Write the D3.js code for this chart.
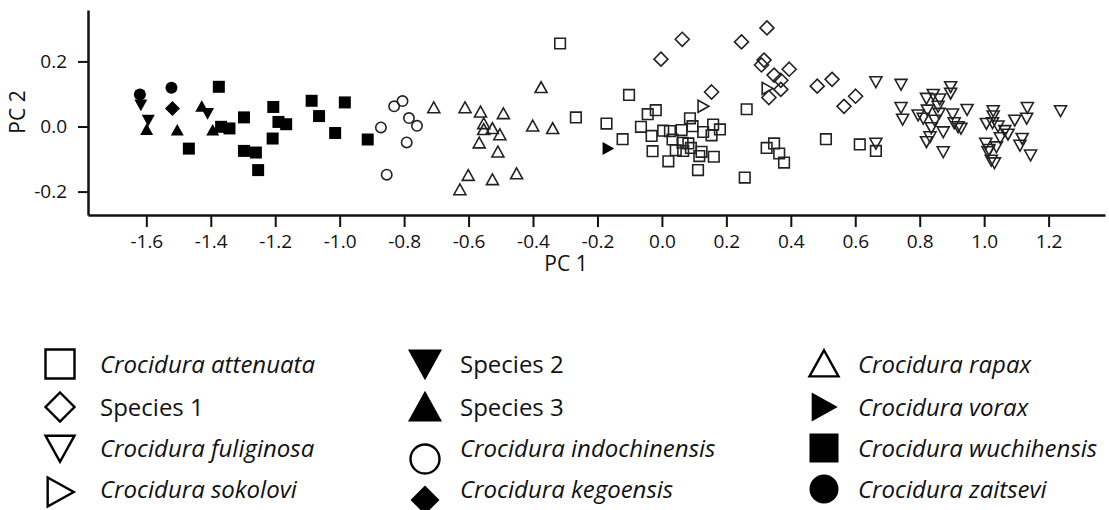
<!DOCTYPE html>
<html>
<head>
<meta charset="utf-8">
<script src="https://cdn.jsdelivr.net/npm/d3@7"></script>
<style>
  body { margin: 0; background: #fff; }
  svg text { font-family: "Open Sans", sans-serif; fill: #111; }
</style>
</head>
<body>
<svg id="main" width="1109" height="510"></svg>
<script>
// legend order (3 columns of 4)
const speciesNames = ["Crocidura attenuata", "Species 1", "Crocidura fuliginosa", "Crocidura sokolovi",
  "Species 2", "Species 3", "Crocidura indochinensis", "Crocidura kegoensis",
  "Crocidura rapax", "Crocidura vorax", "Crocidura wuchihensis", "Crocidura zaitsevi"];

const xTicks = [-1.6, -1.4, -1.2, -1.0, -0.8, -0.6, -0.4, -0.2, 0.0, 0.2, 0.4, 0.6, 0.8, 1.0, 1.2];
const yTicks = [-0.2, 0.0, 0.2];

// PC1 / PC2 scores
const attenuata = [[-0.316,0.255],[-0.267,0.028],[-0.102,0.097],[-0.172,0.009],[-0.122,-0.039],[-0.044,0.038],
  [-0.019,0.050],[-0.065,-0.001],[-0.032,-0.029],[-0.029,-0.076],[0.020,-0.107],[0.025,-0.014],[0.033,-0.040],
  [0.043,-0.073],[0.061,-0.011],[0.064,-0.050],[0.066,-0.075],[0.087,0.025],[0.095,0.001],[0.082,-0.052],
  [0.090,-0.066],[0.116,-0.091],[0.123,-0.078],[0.112,-0.134],[0.128,-0.017],[0.154,-0.027],[0.159,0.006],
  [0.180,-0.009],[0.161,-0.093],[0.263,0.053],[0.257,-0.157],[0.325,-0.066],[0.348,-0.052],[0.364,-0.083],
  [0.379,-0.111],[0.509,-0.039],[0.614,-0.055],[0.664,-0.075],[0.004,-0.013]];
const species1 = [[-0.003,0.207],[0.063,0.268],[0.154,0.106],[0.247,0.260],[0.326,0.303],[0.317,0.204],
  [0.309,0.189],[0.348,0.158],[0.395,0.176],[0.369,0.142],[0.369,0.114],[0.332,0.089],[0.482,0.124],
  [0.528,0.145],[0.601,0.093],[0.565,0.062]];
const fuliginosa = [[0.664,0.137],[0.742,0.129],[0.742,0.058],[0.747,0.022],[0.664,-0.052],[0.821,0.086],
  [0.842,0.098],[0.862,0.084],[0.896,0.122],[0.896,0.102],[0.795,0.035],[0.811,0.025],[0.824,0.050],
  [0.857,0.062],[0.860,0.040],[0.847,0.019],[0.836,-0.004],[0.832,-0.032],[0.821,-0.047],[0.873,-0.017],
  [0.873,-0.078],[0.902,0.038],[0.907,0.011],[0.919,-0.001],[0.928,-0.006],[0.947,0.052],[1.028,0.048],
  [1.028,0.032],[1.007,0.009],[1.026,0.011],[1.043,0.001],[1.064,-0.013],[1.074,-0.024],[1.050,-0.035],
  [1.095,0.019],[1.134,0.058],[1.132,0.025],[1.005,-0.052],[1.015,-0.071],[1.038,-0.063],[1.022,-0.104],
  [1.032,-0.112],[1.118,-0.037],[1.111,-0.058],[1.144,-0.088],[1.237,0.048],[1.012,-0.078]];
const sokolovi = [[0.128,0.062],[0.327,0.117]];
const species2 = [[-1.617,0.066],[-1.594,0.019],[-1.410,0.040]];
const species3 = [[-1.599,-0.009],[-1.504,-0.011],[-1.428,0.062],[-1.394,-0.011]];
const indochinensis = [[-0.831,0.062],[-0.805,0.078],[-0.785,0.026],[-0.760,0.002],[-0.872,-0.003],
  [-0.792,-0.049],[-0.854,-0.148]];
const kegoensis = [[-1.519,0.055]];
const rapax = [[-0.708,0.058],[-0.611,0.058],[-0.563,0.045],[-0.492,0.040],[-0.553,0.009],[-0.553,-0.009],
  [-0.526,-0.006],[-0.503,-0.025],[-0.567,-0.050],[-0.509,-0.078],[-0.601,-0.150],[-0.627,-0.194],
  [-0.526,-0.163],[-0.451,-0.145],[-0.375,0.120],[-0.401,0.002],[-0.339,-0.006]];
const vorax = [[-0.167,-0.068]];
const wuchihensis = [[-1.375,0.122],[-1.368,-0.001],[-1.342,-0.006],[-1.468,-0.068],[-1.297,0.028],
  [-1.297,-0.075],[-1.260,-0.080],[-1.253,-0.134],[-1.206,0.060],[-1.190,0.014],[-1.166,0.007],
  [-1.208,-0.037],[-1.087,0.079],[-1.064,0.032],[-1.014,-0.020],[-0.984,0.074],[-0.913,-0.040]];
const zaitsevi = [[-1.620,0.098],[-1.522,0.119]];

const speciesData = [attenuata, species1, fuliginosa, sokolovi, species2, species3,
  indochinensis, kegoensis, rapax, vorax, wuchihensis, zaitsevi];

// marker style per species (same order)
const markerShape = ["square", "diamond", "down", "right", "down", "up", "circle", "diamond", "up", "right", "square", "circle"];
const markerFilled = [false, false, false, false, true, true, false, true, false, true, true, true];
const italic = [true, false, true, true, false, false, true, true, true, true, true, true];

function shapePath(type, r) {
  switch (type) {
    case "square": return `M${-r},${-r}H${r}V${r}H${-r}Z`;
    case "diamond": return `M0,${-r}L${r},0L0,${r}L${-r},0Z`;
    case "down": return `M${-r},${-r*0.85}H${r}L0,${r*0.95}Z`;
    case "up": return `M0,${-r*0.95}L${r},${r*0.85}H${-r}Z`;
    case "right": return `M${-r*0.85},${-r}L${r*0.95},0L${-r*0.85},${r}Z`;
    default: return `M${r},0A${r},${r} 0 1,1 ${-r},0A${r},${r} 0 1,1 ${r},0Z`;
  }
}
// plot marker half size
function markerSize(i) {
  const s = markerShape[i];
  if (s === "diamond") return markerFilled[i] ? 7.5 : 7;
  if (s === "square") return markerFilled[i] ? 6 : 5.3;
  if (s === "circle") return markerFilled[i] ? 6 : 5.2;
  return markerFilled[i] ? 6.5 : 6;
}

const svg = d3.select("#main");
const x = d3.scaleLinear().domain([-1.781, 1.375]).range([88, 1105]);
const y = d3.scaleLinear().domain([-0.272, 0.358]).range([215, 10]);

// axes
const xAxis = svg.append("g")
  .attr("transform", "translate(0,215)")
  .call(d3.axisBottom(x).tickValues(xTicks).tickFormat(d => d.toFixed(1))
    .tickSize(12).tickSizeOuter(0).tickPadding(8));
const yAxis = svg.append("g")
  .attr("transform", "translate(88,0)")
  .call(d3.axisLeft(y).tickValues(yTicks).tickFormat(d => d.toFixed(1))
    .tickSize(10).tickSizeOuter(0).tickPadding(11));
[xAxis, yAxis].forEach(g => {
  g.select(".domain").attr("stroke", "#111").attr("stroke-width", 2.5);
  g.selectAll(".tick line").attr("stroke", "#111").attr("stroke-width", 2);
  g.selectAll(".tick text").style("font-size", "19px").attr("fill", "#111");
});

svg.append("text").attr("x", 566).attr("y", 271).attr("text-anchor", "middle")
  .style("font-size", "21px").text("PC 1");
svg.append("text").attr("transform", "translate(25,112) rotate(-90)").attr("text-anchor", "middle")
  .style("font-size", "21px").text("PC 2");

// points
speciesData.forEach((pts, i) => {
  svg.append("g").selectAll("path")
    .data(pts)
    .enter()
    .append("path")
    .attr("transform", d => `translate(${x(d[0])},${y(d[1])})`)
    .attr("d", shapePath(markerShape[i], markerSize(i)))
    .attr("fill", markerFilled[i] ? "#000" : "#fff")
    .attr("fill-opacity", markerFilled[i] ? 1 : 0)
    .attr("stroke", markerFilled[i] ? "none" : "#222")
    .attr("stroke-width", 1.6);
});

// legend
const colSym = [60, 425, 824], colText = [100, 460, 858];
const rowY = [364, 407, 448, 489];
const legend = svg.append("g");
speciesNames.forEach((name, i) => {
  const c = Math.floor(i / 4), r = i % 4;
  const filled = markerFilled[i], s = markerShape[i];
  let size = (filled && (s === "up" || s === "down")) ? 17 : 14.5;
  let dy = 0;
  if (c === 1 && r >= 2) dy = 11;
  if (c === 0 && r === 3) dy = 3;
  legend.append("path")
    .attr("transform", `translate(${colSym[c]},${rowY[r] + dy})`)
    .attr("d", shapePath(s, size))
    .attr("fill", filled ? "#000" : "#fff")
    .attr("stroke", filled ? "none" : "#000")
    .attr("stroke-width", 2.4);
  legend.append("text")
    .attr("x", colText[c])
    .attr("y", rowY[r] + 9)
    .style("font-size", "24px")
    .style("font-style", italic[i] ? "italic" : "normal")
    .text(name);
});
</script>
</body>
</html>
